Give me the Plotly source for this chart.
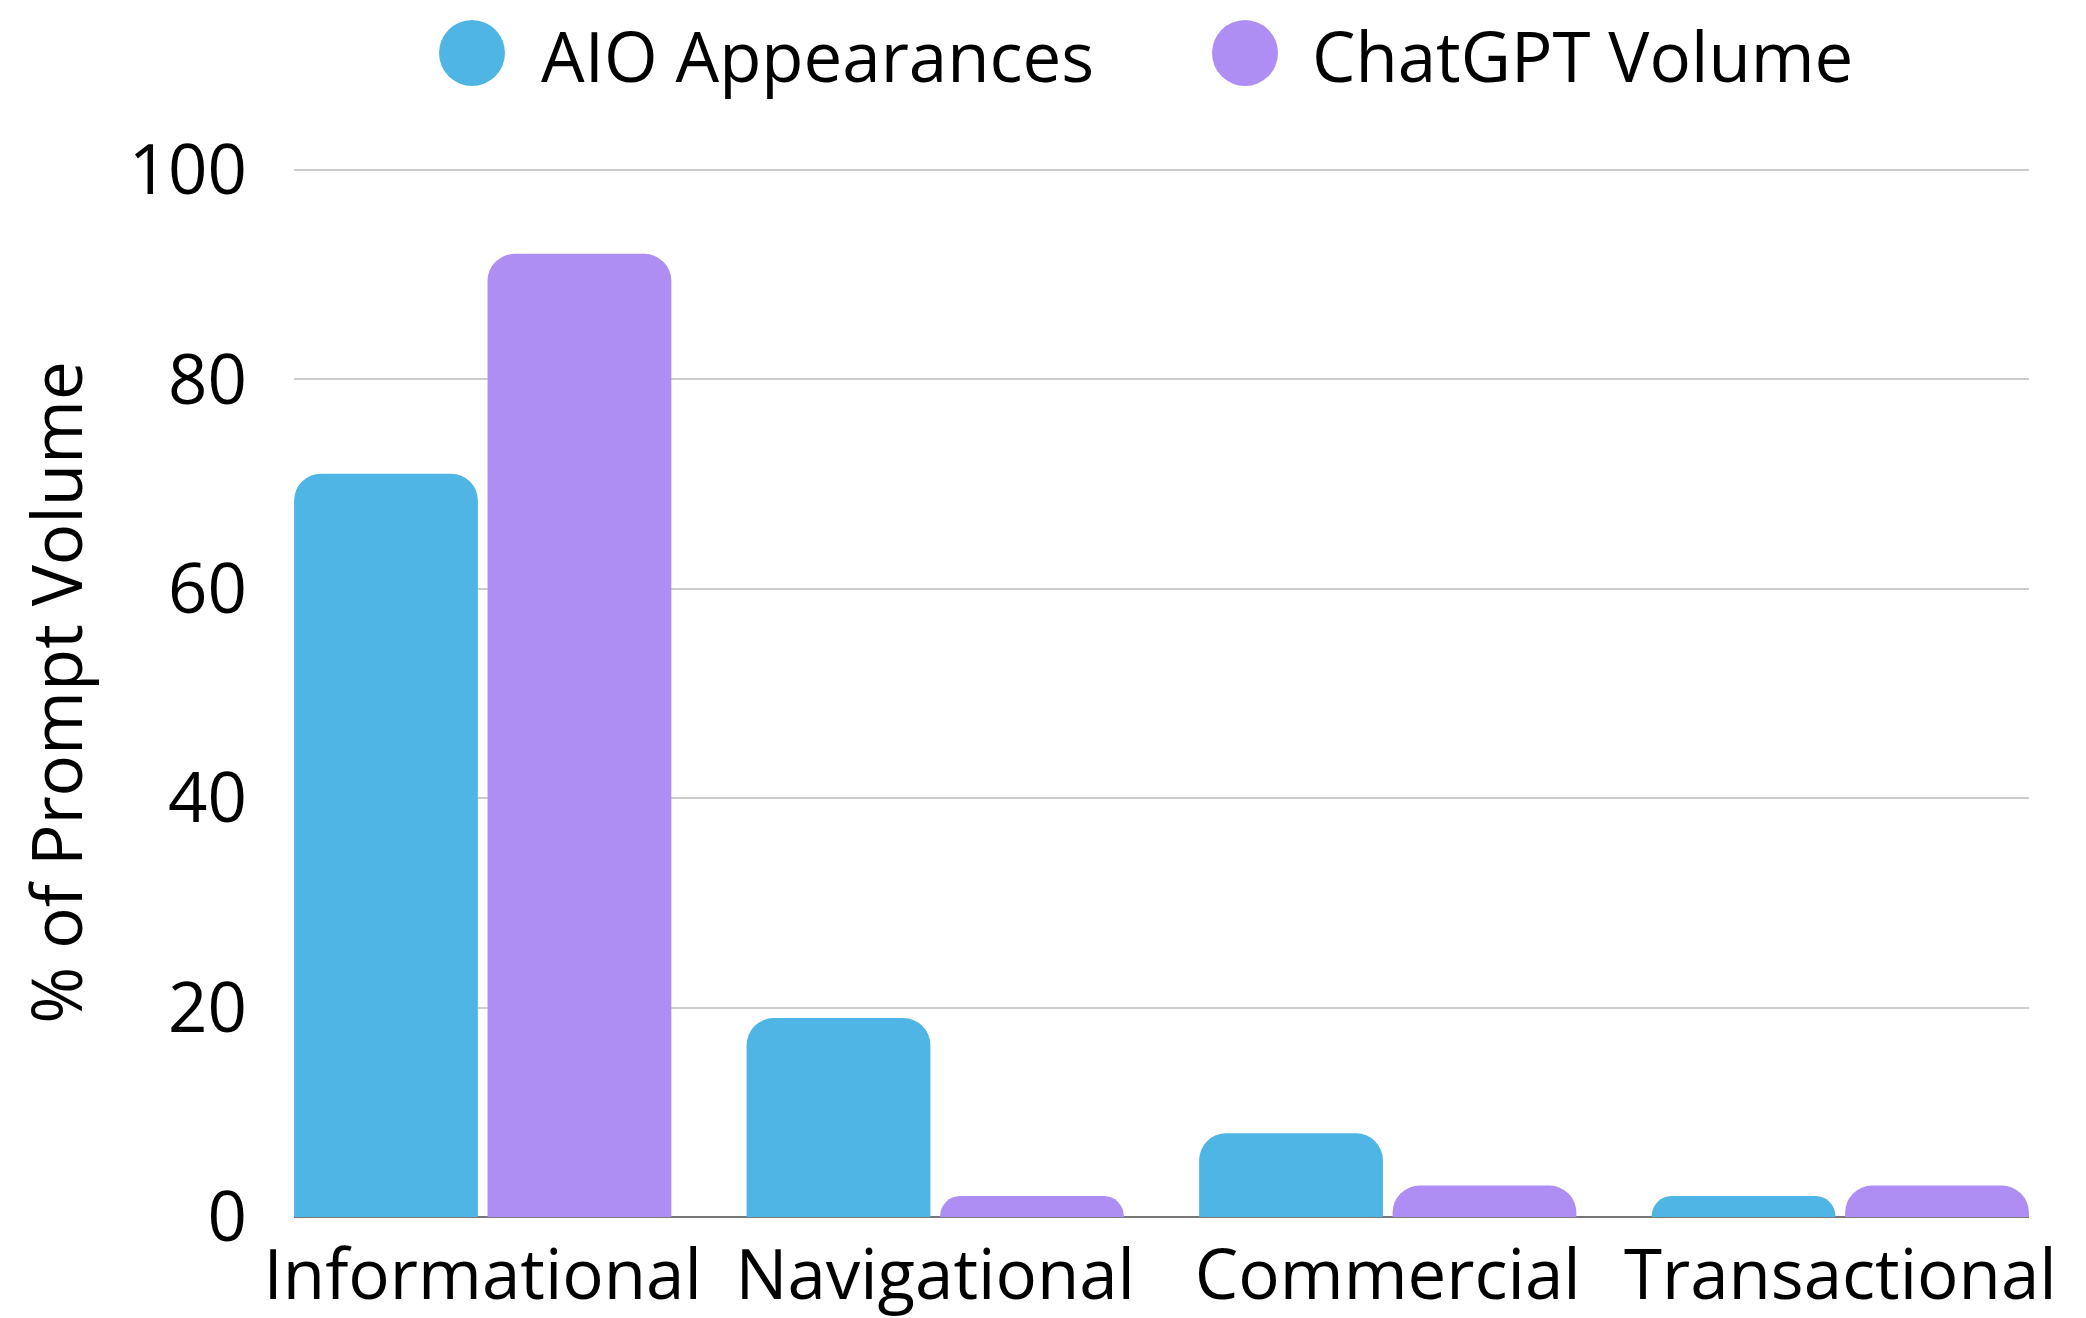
import plotly.graph_objects as go

categories = ["Informational", "Navigational", "Commercial", "Transactional"]
aio_values = [71, 19, 8, 2]
chatgpt_values = [92, 2, 3, 3]
series_names = ["AIO Appearances", "ChatGPT Volume"]
y_ticks = [0, 20, 40, 60, 80, 100]

BLUE = "#4FB5E5"
PURPLE = "#AF8EF4"
FONT = "Open Sans"
FS = 69

OFF = 8  # page body margin offset
W, H = 2086 - OFF, 1318 - OFF
PL, PR, PT, PB = 294 - OFF, 2029 - OFF, 168 - OFF, 1217 - OFF  # plot area pixel bounds

fig = go.Figure()
fig.add_trace(go.Bar(x=categories, y=aio_values, name=series_names[0],
                     marker=dict(color=BLUE, line=dict(width=0)), showlegend=False))
fig.add_trace(go.Bar(x=categories, y=chatgpt_values, name=series_names[1],
                     marker=dict(color=PURPLE, line=dict(width=0)), showlegend=False))

# manual legend (large circles)
legend_items = [(series_names[0], BLUE, 472 - OFF, 539 - OFF), (series_names[1], PURPLE, 1245 - OFF, 1310 - OFF)]
cy = 53 - OFF
ty = 55 - OFF
for name, color, cx, tx in legend_items:
    fig.add_shape(type="circle", xref="paper", yref="paper",
                  xsizemode="pixel", ysizemode="pixel",
                  xanchor=(cx - PL) / (PR - PL), yanchor=(PB - cy) / (PB - PT),
                  x0=-33, x1=33, y0=-33, y1=33,
                  fillcolor=color, line=dict(width=0))
    fig.add_annotation(text=name, xref="paper", yref="paper",
                       x=(tx - PL) / (PR - PL), y=(PB - ty) / (PB - PT),
                       xanchor="left", yanchor="middle", showarrow=False,
                       font=dict(family=FONT, size=FS, color="#000000"))

fig.update_layout(
    width=W, height=H,
    margin=dict(l=PL, r=W - PR, t=PT, b=H - PB, autoexpand=False),
    paper_bgcolor="white", plot_bgcolor="white",
    barmode="group", bargap=0.145, bargroupgap=0.05, barcornerradius=27,
    font=dict(family=FONT, size=FS, color="#000000"),
    xaxis=dict(range=[-0.417, 3.417], showgrid=False, showline=False, zeroline=False,
               automargin=False,
               tickfont=dict(family=FONT, size=FS), ticks="", ticklabelstandoff=12),
    yaxis=dict(range=[0, 100.2], tickvals=y_ticks, showgrid=True, gridcolor="#CCCCCC",
               gridwidth=2, zeroline=True, zerolinecolor="#777777", zerolinewidth=2,
               showline=False, ticks="", ticklabelstandoff=46, automargin=False,
               tickfont=dict(family=FONT, size=FS),
               title=dict(text="% of Prompt Volume", standoff=24,
                          font=dict(family=FONT, size=FS))),
)

fig.write_html("out.html")
